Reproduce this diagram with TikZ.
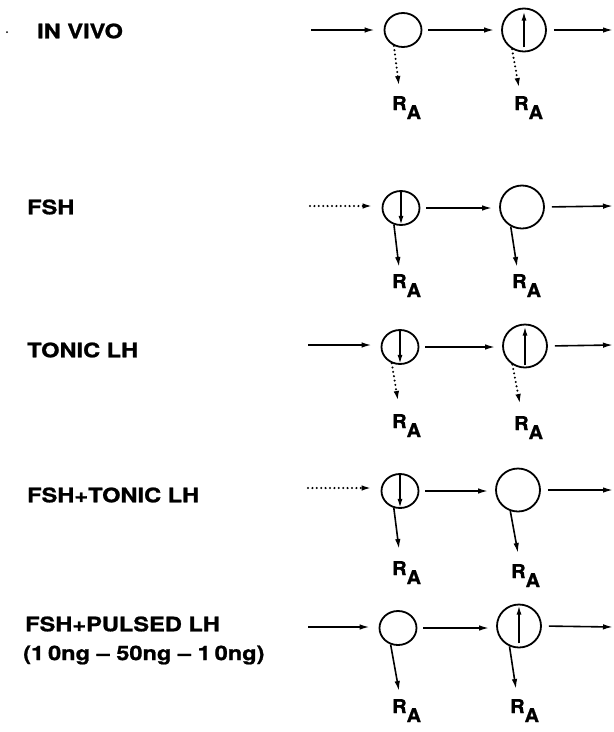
\documentclass[tikz,border=0pt]{standalone}
\usepackage{fontspec}
\setmainfont{TeX Gyre Heros}[BoldFeatures={FakeBold=1}]
\usetikzlibrary{shapes.geometric,arrows.meta}
\newcommand\mywide[1]{\scalebox{1.18}[1]{#1}}
\newcommand\myRA{\scalebox{1.05}[1]{R\raisebox{-9pt}{A}}}
\begin{document}
\begin{tikzpicture}[x=1pt,y=-1pt,
 arr/.style={line width=1.6pt,-{Latex[length=10pt,width=5.5pt]}},
 dotarr/.style={arr,line cap=round,dash pattern=on 0pt off 4.4pt,line width=2.3pt},
 inarr/.style={line width=1.5pt,-{Latex[length=9pt,width=5pt]}},
 sc/.style={ellipse,draw,line width=1.8pt,minimum width=37pt,minimum height=34pt,inner sep=0},
 bc/.style={ellipse,draw,line width=1.8pt,minimum width=44pt,minimum height=43pt,inner sep=0},
 lbl/.style={anchor=west,inner sep=0,font=\bfseries\fontsize{20}{24}\selectfont},
 ra/.style={anchor=base west,inner sep=0,font=\bfseries\fontsize{19}{21}\selectfont}]
\useasboundingbox (0,0) rectangle (614,732);
\fill (7,32) circle (1pt);

% labels
\node[lbl] (l1) at (37,31) {\mywide{IN VIVO}};
\node[lbl] (l2) at (27,207) {\mywide{FSH}};
\node[lbl] (l3) at (27,350) {\mywide{TONIC LH}};
\node[lbl] (l4) at (27,495) {\mywide{FSH+TONIC LH}};
\node[lbl] (l5) at (25,624) {\mywide{FSH+PULSED LH}};
\node[lbl] (l6) at (23,655) {\mywide{(1\,0ng -- 50ng -- 1\,0ng)}};

% row 1
\node[sc] (c11) at (403,30) {};
\node[bc] (c12) at (524,30) {};
\coordinate (i1) at (311,30);
\coordinate (o1) at (613,30);
\draw[arr,shorten >=9pt] (i1) -- (i1 -| c11.west);
\draw[arr,shorten <=6pt,shorten >=7pt] (c11.east) -- (c11.east -| c12.west);
\draw[arr,shorten <=7pt] (c12.east) -- (o1);
\draw[inarr,shorten <=5pt,shorten >=4pt] (c12.south) -- (c12.north);
\coordinate (t11) at (399,86);
\coordinate (t12) at (519,88);
\draw[dotarr] (c11.240) -- (t11);
\draw[dotarr] (c12.238) -- (t12);
\node[ra] (r11) at (392,110) {\myRA};
\node[ra] (r12) at (514,110) {\myRA};

% row 2
\node[sc] (c21) at (401,208) {};
\node[bc] (c22) at (522,207) {};
\coordinate (i2) at (310,206);
\coordinate (o2) at (613,206);
\draw[dotarr,shorten >=9pt] (i2) -- (i2 -| c21.west);
\draw[arr,shorten <=6pt,shorten >=7pt] (c21.east) -- (c21.east -| c22.west);
\draw[arr,shorten <=7pt] (c22.east) -- (o2);
\draw[inarr,shorten <=1pt,shorten >=1pt] (c21.north) -- (c21.south);
\coordinate (t21) at (399,267);
\coordinate (t22) at (517,267);
\draw[arr] (c21.247) -- (t21);
\draw[arr] (c22.240) -- (t22);
\node[ra] (r21) at (392,288) {\myRA};
\node[ra] (r22) at (512,288) {\myRA};

% row 3
\node[sc] (c31) at (400,347) {};
\node[bc] (c32) at (525,346) {};
\coordinate (i3) at (308,345);
\coordinate (o3) at (613,345);
\draw[arr,shorten >=9pt] (i3) -- (i3 -| c31.west);
\draw[arr,shorten <=6pt,shorten >=7pt] (c31.east) -- (c31.east -| c32.west);
\draw[arr,shorten <=7pt] (c32.east) -- (o3);
\draw[inarr,shorten <=1pt,shorten >=1pt] (c31.north) -- (c31.south);
\draw[inarr,shorten <=3pt,shorten >=3pt] (c32.south) -- (c32.north);
\coordinate (t31) at (398,401);
\coordinate (t32) at (520,404);
\draw[dotarr] (c31.243) -- (t31);
\draw[dotarr] (c32.236) -- (t32);
\node[ra] (r31) at (392,428) {\myRA};
\node[ra] (r32) at (514,430) {\myRA};

% row 4
\node[sc] (c41) at (400,491) {};
\node[bc] (c42) at (518,490) {};
\coordinate (i4) at (308,488);
\coordinate (o4) at (613,490);
\draw[dotarr,shorten >=9pt] (i4) -- (i4 -| c41.west);
\draw[arr,shorten <=6pt,shorten >=7pt] (c41.east) -- (c41.east -| c42.west);
\draw[arr,shorten <=7pt] (c42.east) -- (o4);
\draw[inarr,shorten <=1pt,shorten >=1pt] (c41.north) -- (c41.south);
\coordinate (t41) at (399,549);
\coordinate (t42) at (518,553);
\draw[arr] (c41.250) -- (t41);
\draw[arr] (c42.250) -- (t42);
\node[ra] (r41) at (392,575) {\myRA};
\node[ra] (r42) at (511,578) {\myRA};

% row 5
\node[sc] (c51) at (398,628) {};
\node[bc] (c52) at (519,626) {};
\coordinate (i5) at (308,627);
\coordinate (o5) at (613,627);
\draw[arr,shorten >=9pt] (i5) -- (i5 -| c51.west);
\draw[arr,shorten <=6pt,shorten >=7pt] (c51.east) -- (c51.east -| c52.west);
\draw[arr,shorten <=7pt] (c52.east) -- (o5);
\draw[inarr,shorten <=5pt,shorten >=2pt] (c52.south) -- (c52.north);
\coordinate (t51) at (399,691);
\coordinate (t52) at (516,689);
\draw[arr] (c51.246) -- (t51);
\draw[arr] (c52.245) -- (t52);
\node[ra] (r51) at (392,713) {\myRA};
\node[ra] (r52) at (510,713) {\myRA};
\end{tikzpicture}
\end{document}
